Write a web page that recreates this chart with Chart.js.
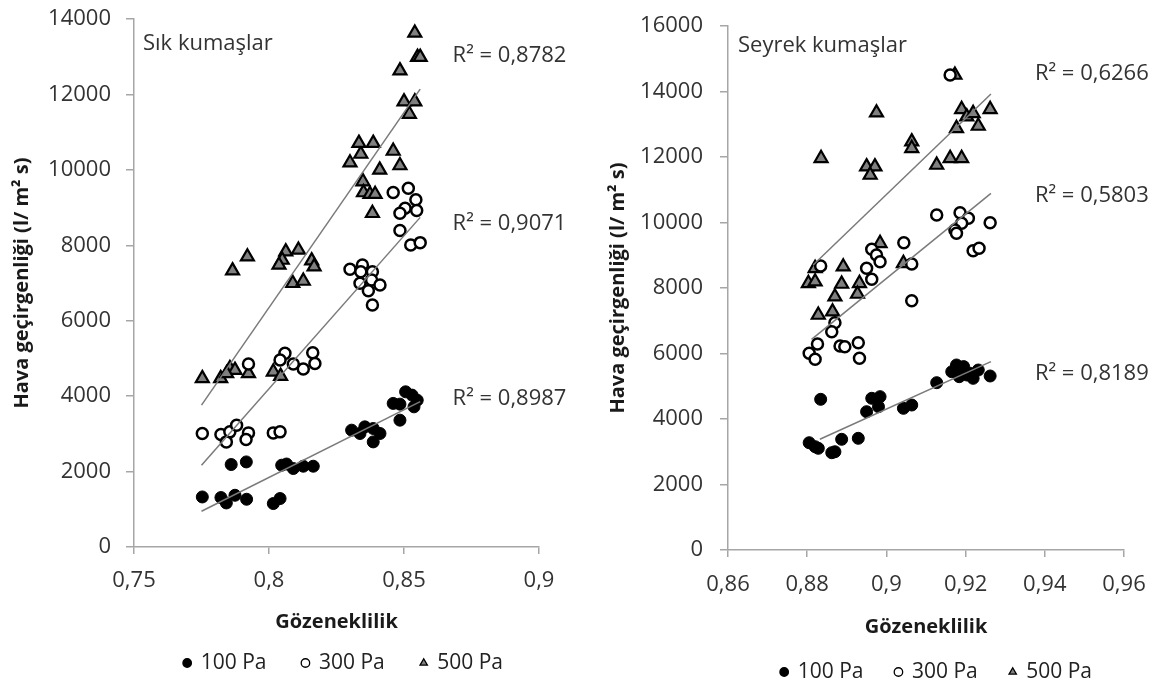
<!DOCTYPE html>
<html lang="tr">
<head>
<meta charset="utf-8">
<title>Gözeneklilik ve hava geçirgenliği</title>
<script src="https://cdn.jsdelivr.net/npm/chart.js@4.4.1/dist/chart.umd.min.js"></script>
<style>
  html, body { margin: 0; background: #fff; }
  #wrap { position: relative; width: 1165px; height: 681px; overflow: hidden; }
  canvas { position: absolute; top: 0; }
  #sik { left: 0; }
  #seyrek { left: 590px; }
</style>
</head>
<body>
<div id="wrap">
  <canvas id="sik" width="590" height="681"></canvas>
  <canvas id="seyrek" width="575" height="681"></canvas>
</div>
<script>
const FONT = '"Open Sans", sans-serif';
const AXIS = '#a6a6a6';
const TXT = '#333';

const seriesLabels = ['100 Pa', '300 Pa', '500 Pa'];

// --- Sık kumaşlar ---
const sikX100 = [0.7753, 0.7822, 0.7842, 0.7874, 0.7917, 0.786, 0.7916, 0.8016, 0.8041, 0.8047, 0.8065, 0.809, 0.8127, 0.8164,
  0.8306, 0.8337, 0.8355, 0.8386, 0.8411, 0.8386, 0.8485, 0.846, 0.8485, 0.8506, 0.853, 0.8549, 0.8537];
const sikY100 = [1327, 1311, 1168, 1372, 1266, 2187, 2256, 1152, 1285, 2169, 2200, 2081, 2142, 2142,
  3098, 3010, 3186, 3142, 3010, 2787, 3363, 3807, 3788, 4115, 4027, 3894, 3716];
const sikX300 = [0.7753, 0.7822, 0.7855, 0.788, 0.7842, 0.7924, 0.7915, 0.8016, 0.8041, 0.7924, 0.8059, 0.8041, 0.809, 0.8127,
  0.8162, 0.817, 0.830, 0.8346, 0.8383, 0.834, 0.8337, 0.838, 0.8411, 0.8368, 0.8383, 0.846, 0.8516, 0.8544, 0.8504,
  0.8547, 0.8485, 0.8485, 0.8525, 0.856];
const sikY300 = [3010, 2984, 3053, 3230, 2787, 3026, 2851, 3026, 3053, 4850, 5134, 4956, 4850, 4717,
  5150, 4868, 7364, 7478, 7300, 7300, 6993, 7080, 6947, 6797, 6416, 9400, 9515, 9205, 8983,
  8920, 8850, 8390, 8010, 8070];
const sikX500 = [0.7753, 0.7821, 0.7855, 0.7874, 0.7843, 0.7924, 0.8016, 0.8043, 0.7865, 0.792, 0.8062, 0.8109, 0.8049,
  0.8037, 0.8158, 0.8167, 0.8088, 0.8127, 0.8383, 0.8348, 0.835, 0.8374, 0.8393, 0.841, 0.8485, 0.846, 0.830, 0.834,
  0.8333, 0.8386, 0.852, 0.850, 0.854, 0.8485, 0.855, 0.856, 0.854];
const sikY500 = [4470, 4470, 4735, 4690, 4603, 4603, 4646, 4531, 7327, 7698, 7832, 7876, 7610,
  7478, 7592, 7433, 6993, 7053, 8850, 9690, 9400, 9355, 9355, 10000, 10115, 10500, 10190, 10420,
  10710, 10710, 11480, 11810, 11810, 12630, 12990, 12990, 13630];
const sikTrendX = [0.775, 0.856];
const sikTrend100 = [948, 3853];
const sikTrend300 = [2169, 8740];
const sikTrend500 = [3760, 12140];
const sikTickX = [0.75, 0.8, 0.85, 0.9];
const sikTickXLabels = ['0,75', '0,8', '0,85', '0,9'];
const sikTickY = [0, 2000, 4000, 6000, 8000, 10000, 12000, 14000];
const sikR2 = ['R² = 0,8987', 'R² = 0,9071', 'R² = 0,8782'];
const sikR2Y = [3762, 8407, 12867];

// --- Seyrek kumaşlar ---
const seyX100 = [0.8805, 0.882, 0.8828, 0.8862, 0.887, 0.8887, 0.8929, 0.8834, 0.895, 0.8963, 0.898, 0.8984, 0.9043, 0.9064,
  0.9127, 0.9165, 0.9177, 0.919, 0.9184, 0.9195, 0.9203, 0.921, 0.9219, 0.9232, 0.9262];
const seyY100 = [3276, 3154, 3105, 2970, 3000, 3380, 3410, 4601, 4223, 4632, 4376, 4682, 4326, 4427,
  5109, 5444, 5649, 5547, 5292, 5600, 5344, 5400, 5242, 5496, 5313];
const seyX300 = [0.9161, 0.9127, 0.9186, 0.9207, 0.919, 0.9262, 0.9173, 0.9177, 0.9219, 0.9234, 0.9044, 0.8963, 0.8975,
  0.8984, 0.895, 0.8963, 0.8834, 0.9064, 0.9064, 0.887, 0.8862, 0.8826, 0.8805, 0.882, 0.8883, 0.8895, 0.8929, 0.8932];
const seyY300 = [14504, 10229, 10300, 10128, 9975, 9994, 9771, 9670, 9139, 9212, 9383, 9182, 9008,
  8804, 8601, 8265, 8672, 8733, 7612, 6941, 6666, 6290, 6006, 5822, 6229, 6208, 6330, 5853];
const seyX500 = [0.9173, 0.8975, 0.8835, 0.919, 0.9203, 0.9219, 0.9262, 0.9232, 0.9177, 0.9064, 0.9064, 0.895, 0.8971,
  0.8959, 0.9127, 0.9161, 0.919, 0.8984, 0.9043, 0.882, 0.8891, 0.8803, 0.882, 0.8887, 0.8932, 0.887, 0.8927,
  0.8828, 0.8864];
const seyY500 = [14504, 13353, 11960, 13456, 13231, 13334, 13456, 12947, 12876, 12468, 12265, 11705, 11705,
  11450, 11756, 11960, 11960, 9365, 8754, 8601, 8651, 8143, 8193, 8122, 8143, 7735, 7817,
  7176, 7277];
const seyTrendX100 = [0.8832, 0.9264];
const seyTrendX300 = [0.8811, 0.9264];
const seyTrendX500 = [0.8815, 0.9264];
const seyTrend100 = [3380, 5750];
const seyTrend300 = [6433, 10891];
const seyTrend500 = [8702, 13924];
const seyTickX = [0.86, 0.88, 0.9, 0.92, 0.94, 0.96];
const seyTickXLabels = ['0,86', '0,88', '0,9', '0,92', '0,94', '0,96'];
const seyTickY = [0, 2000, 4000, 6000, 8000, 10000, 12000, 14000, 16000];
const seyR2 = ['R² = 0,8189', 'R² = 0,5803', 'R² = 0,6266'];
const seyR2Y = [5191, 10626, 14351];

const markers = [
  { pointStyle: 'circle', backgroundColor: '#000', borderColor: '#000', borderWidth: 1, radius: 6 },
  { pointStyle: 'circle', backgroundColor: '#fff', borderColor: '#000', borderWidth: 2.5, radius: 5.5 },
  { pointStyle: 'triangle', backgroundColor: '#808080', borderColor: '#000', borderWidth: 2.2, radius: 7.5 },
];

const zip = (xs, ys) => xs.map((x, i) => ({ x, y: ys[i] }));

// draws the panel caption and the R² labels
const notes = {
  id: 'notes',
  afterDraw(chart, args, o) {
    const { ctx, scales: { x, y } } = chart;
    ctx.save();
    ctx.font = `22px ${FONT}`;
    ctx.fillStyle = TXT;
    ctx.textBaseline = 'alphabetic';
    ctx.fillText(o.caption, x.left + o.capDx, y.top + o.capDy);
    o.r2.forEach((t, i) => ctx.fillText(t, x.getPixelForValue(o.r2x), y.getPixelForValue(o.r2y[i])));
    ctx.restore();
  },
};

function panel(id, p) {
  const series = [[p.x100, p.y100], [p.x300, p.y300], [p.x500, p.y500]];
  const datasets = series.map(([xs, ys], i) => ({
    label: seriesLabels[i], data: zip(xs, ys), order: 2,
    pointStyle: markers[i].pointStyle, backgroundColor: markers[i].backgroundColor, borderColor: markers[i].borderColor,
    borderWidth: markers[i].borderWidth, pointRadius: markers[i].radius, pointHoverRadius: markers[i].radius,
  }));
  p.trends.forEach(([xs, ys]) => datasets.push({
    label: 'trend', data: zip(xs, ys), showLine: true, pointRadius: 0, order: 1,
    borderColor: '#7a7a7a', borderWidth: 1.5, backgroundColor: 'transparent',
  }));

  const tickFont = { family: FONT, size: 22 };
  const titleFont = { family: FONT, size: 20, weight: 'bold' };

  return new Chart(document.getElementById(id), {
    type: 'scatter',
    data: { datasets },
    plugins: [notes],
    options: {
      responsive: false, animation: false, devicePixelRatio: 1,
      layout: { padding: { left: 0, right: p.padRight, top: p.padTop, bottom: 0 } },
      plugins: {
        tooltip: { enabled: false },
        legend: {
          position: 'bottom', align: 'end', maxHeight: p.legendH,
          labels: {
            usePointStyle: true, boxWidth: 6, boxHeight: 6, padding: p.legendGap, color: '#222',
            font: { family: FONT, size: 21 },
            generateLabels: c => Chart.defaults.plugins.legend.labels.generateLabels(c)
              .filter(l => l.datasetIndex < 3).map(l => ({ ...l, lineWidth: 1.3 })),
          },
        },
        notes: { caption: p.caption, capDx: p.capDx, capDy: p.capDy, r2: p.r2, r2x: p.r2x, r2y: p.r2y },
      },
      scales: {
        x: {
          type: 'linear', min: p.xTicks[0], max: p.xTicks[p.xTicks.length - 1],
          afterBuildTicks: s => { s.ticks = p.xTicks.map(value => ({ value })); },
          afterFit: s => { s.height = p.xAxisH; },
          grid: { drawOnChartArea: false, tickLength: 7, color: AXIS, lineWidth: 1.5 },
          border: { color: AXIS, width: 1.5 },
          ticks: { padding: p.xPad, color: TXT, font: tickFont, maxRotation: 0, autoSkip: false,
            callback: (v, i) => p.xLabels[i] },
          title: { display: true, text: 'Gözeneklilik', color: '#1a1a1a', font: titleFont,
            padding: { top: 0, bottom: p.xTitlePad } },
        },
        y: {
          min: p.yTicks[0], max: p.yTicks[p.yTicks.length - 1],
          afterBuildTicks: s => { s.ticks = p.yTicks.map(value => ({ value })); },
          afterFit: s => { s.width = p.yAxisW; s.paddingTop = 0; s.paddingBottom = 0; },
          grid: { drawOnChartArea: false, tickLength: 8, color: AXIS, lineWidth: 1.5 },
          border: { color: AXIS, width: 1.5 },
          ticks: { padding: p.yPad, color: TXT, font: tickFont, callback: v => String(v) },
          title: { display: true, text: 'Hava geçirgenliği (l/ m² s)', color: '#1a1a1a', font: titleFont,
            padding: { top: p.yTitlePad, bottom: 0 } },
        },
      },
    },
  });
}

panel('sik', {
  x100: sikX100, y100: sikY100, x300: sikX300, y300: sikY300, x500: sikX500, y500: sikY500,
  trends: [[sikTrendX, sikTrend100], [sikTrendX, sikTrend300], [sikTrendX, sikTrend500]],
  xTicks: sikTickX, xLabels: sikTickXLabels, yTicks: sikTickY,
  caption: 'Sık kumaşlar', capDx: 9, capDy: 31,
  r2: sikR2, r2x: 0.868, r2y: sikR2Y,
  padRight: 51, padTop: 19, xAxisH: 69.5, yAxisW: 134, xPad: 14, yPad: 15, xTitlePad: -17.5, yTitlePad: 10,
  legendH: 64.5, legendGap: 36,
});

panel('seyrek', {
  x100: seyX100, y100: seyY100, x300: seyX300, y300: seyY300, x500: seyX500, y500: seyY500,
  trends: [[seyTrendX100, seyTrend100], [seyTrendX300, seyTrend300], [seyTrendX500, seyTrend500]],
  xTicks: seyTickX, xLabels: seyTickXLabels, yTicks: seyTickY,
  caption: 'Seyrek kumaşlar', capDx: 10, capDy: 26,
  r2: seyR2, r2x: 0.9375, r2y: seyR2Y,
  padRight: 41, padTop: 26, xAxisH: 79.5, yAxisW: 138, xPad: 15, yPad: 17, xTitlePad: -9.5, yTitlePad: 16,
  legendH: 51.5, legendGap: 32,
});
</script>
</body>
</html>
